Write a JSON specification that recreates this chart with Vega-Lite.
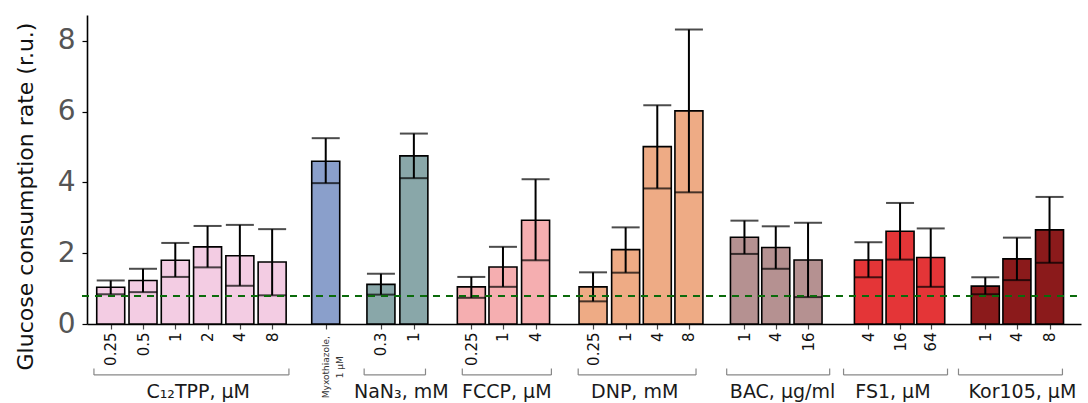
{
  "$schema": "https://vega.github.io/schema/vega-lite/v6.json",
  "autosize": "none",
  "width": 994,
  "height": 309,
  "padding": {"left": 87, "top": 15, "right": 7, "bottom": 79},
  "background": "white",
  "config": {"view": {"stroke": null}, "font": "DejaVu Sans"},
  "datasets": {
    "bars": [
      {"group": "C12TPP", "dose": "0.25", "pos": 0, "mean": 1.04, "lo": 0.84, "hi": 1.23},
      {"group": "C12TPP", "dose": "0.5", "pos": 1, "mean": 1.23, "lo": 0.9, "hi": 1.56},
      {"group": "C12TPP", "dose": "1", "pos": 2, "mean": 1.8, "lo": 1.33, "hi": 2.29},
      {"group": "C12TPP", "dose": "2", "pos": 3, "mean": 2.18, "lo": 1.6, "hi": 2.77},
      {"group": "C12TPP", "dose": "4", "pos": 4, "mean": 1.93, "lo": 1.08, "hi": 2.8},
      {"group": "C12TPP", "dose": "8", "pos": 5, "mean": 1.75, "lo": 0.81, "hi": 2.68},
      {"group": "Myxothiazole", "dose": "", "pos": 6.66, "mean": 4.6, "lo": 3.98, "hi": 5.25},
      {"group": "NaN3", "dose": "0.3", "pos": 8.37, "mean": 1.12, "lo": 0.83, "hi": 1.42},
      {"group": "NaN3", "dose": "1", "pos": 9.39, "mean": 4.75, "lo": 4.12, "hi": 5.38},
      {"group": "FCCP", "dose": "0.25", "pos": 11.17, "mean": 1.05, "lo": 0.74, "hi": 1.33},
      {"group": "FCCP", "dose": "1", "pos": 12.15, "mean": 1.61, "lo": 1.05, "hi": 2.18},
      {"group": "FCCP", "dose": "4", "pos": 13.16, "mean": 2.93, "lo": 1.8, "hi": 4.09},
      {"group": "DNP", "dose": "0.25", "pos": 14.94, "mean": 1.05, "lo": 0.64, "hi": 1.46},
      {"group": "DNP", "dose": "1", "pos": 15.95, "mean": 2.1, "lo": 1.45, "hi": 2.73},
      {"group": "DNP", "dose": "4", "pos": 16.93, "mean": 5.01, "lo": 3.83, "hi": 6.18},
      {"group": "DNP", "dose": "8", "pos": 17.91, "mean": 6.02, "lo": 3.72, "hi": 8.32},
      {"group": "BAC", "dose": "1", "pos": 19.63, "mean": 2.45, "lo": 1.98, "hi": 2.92},
      {"group": "BAC", "dose": "4", "pos": 20.6, "mean": 2.16, "lo": 1.56, "hi": 2.76},
      {"group": "BAC", "dose": "16", "pos": 21.6, "mean": 1.81, "lo": 0.76, "hi": 2.86},
      {"group": "FS1", "dose": "4", "pos": 23.47, "mean": 1.81, "lo": 1.32, "hi": 2.31},
      {"group": "FS1", "dose": "16", "pos": 24.45, "mean": 2.62, "lo": 1.82, "hi": 3.42},
      {"group": "FS1", "dose": "64", "pos": 25.4, "mean": 1.88, "lo": 1.05, "hi": 2.7},
      {"group": "Kor105", "dose": "1", "pos": 27.09, "mean": 1.07, "lo": 0.84, "hi": 1.32},
      {"group": "Kor105", "dose": "4", "pos": 28.07, "mean": 1.84, "lo": 1.24, "hi": 2.44},
      {"group": "Kor105", "dose": "8", "pos": 29.08, "mean": 2.66, "lo": 1.73, "hi": 3.59}
    ],
    "groups": [
      {"label": "C₁₂TPP, µM", "start": -0.52, "end": 5.52, "mid": 2.71},
      {"label": "NaN₃, mM", "start": 7.85, "end": 9.75, "mid": 9.0},
      {"label": "FCCP, µM", "start": 10.89, "end": 13.65, "mid": 12.27},
      {"label": "DNP, mM", "start": 14.48, "end": 18.13, "mid": 16.23},
      {"label": "BAC, µg/ml", "start": 19.08, "end": 22.27, "mid": 20.81},
      {"label": "FS1, µM", "start": 22.7, "end": 25.92, "mid": 24.23},
      {"label": "Kor105, µM", "start": 26.26, "end": 29.48, "mid": 28.24}
    ],
    "myx": [
      {"text": "Myxothiazole,\n1 µM", "pos": 6.66}
    ],
    "baseline": [
      {"x": -0.89, "x2": 29.93, "y": 0.79}
    ]
  },
  "layer": [
    {
      "data": {"name": "bars"},
      "mark": {"type": "bar", "size": 28, "stroke": "black", "strokeWidth": 1.6, "opacity": 1},
      "encoding": {
        "x": {
          "field": "pos", "type": "quantitative",
          "scale": {"domain": [-0.58, 29.9], "nice": false, "zero": false},
          "axis": {
            "title": null, "grid": false,
            "values": [0, 1, 2, 3, 4, 5, 6.66, 8.37, 9.39, 11.17, 12.15, 13.16, 14.94, 15.95, 16.93, 17.91, 19.63, 20.6, 21.6, 23.47, 24.45, 25.4, 27.09, 28.07, 29.08],
            "labelExpr": "['0.25','0.5','1','2','4','8','','0.3','1','0.25','1','4','0.25','1','4','8','1','4','16','4','16','64','1','4','8'][indexof([0,1,2,3,4,5,6.66,8.37,9.39,11.17,12.15,13.16,14.94,15.95,16.93,17.91,19.63,20.6,21.6,23.47,24.45,25.4,27.09,28.07,29.08], datum.value)]",
            "labelAngle": 270, "labelFontSize": 15, "labelColor": "#111", "labelPadding": 3,
            "labelFont": "DejaVu Sans", "labelOverlap": false, "labelFlush": false,
            "tickSize": 5, "tickColor": "#444", "tickWidth": 1.2,
            "domainColor": "black", "domainWidth": 1.6
          }
        },
        "y": {
          "field": "mean", "type": "quantitative",
          "scale": {"domain": [0, 8.73], "nice": false},
          "axis": {
            "title": "Glucose consumption rate (r.u.)", "grid": false,
            "values": [0, 2, 4, 6, 8], "format": "d",
            "labelFontSize": 28, "labelColor": "#555", "labelPadding": 7, "labelFont": "DejaVu Sans",
            "tickSize": 5, "tickColor": "black", "tickWidth": 1.2,
            "domainColor": "black", "domainWidth": 1.6,
            "titleFontSize": 22, "titleFontWeight": "normal", "titleColor": "#111", "titleFont": "DejaVu Sans",
            "titleAngle": 270, "titleAlign": "center", "titleBaseline": "middle",
            "titleX": -62, "titleY": 181
          }
        },
        "color": {
          "field": "group", "type": "nominal", "legend": null,
          "scale": {
            "domain": ["C12TPP", "Myxothiazole", "NaN3", "FCCP", "DNP", "BAC", "FS1", "Kor105"],
            "range": ["#f3cce3", "#8a9fcb", "#89a7a9", "#f5aeb0", "#eeab85", "#b59191", "#e43537", "#8b1a1b"]
          }
        }
      }
    },
    {
      "data": {"name": "bars"},
      "mark": {"type": "rule", "color": "black", "strokeWidth": 2},
      "encoding": {
        "x": {"field": "pos", "type": "quantitative"},
        "y": {"field": "lo", "type": "quantitative"},
        "y2": {"field": "hi"}
      }
    },
    {
      "data": {"name": "bars"},
      "mark": {"type": "tick", "orient": "horizontal", "color": "black", "size": 28, "thickness": 2},
      "encoding": {
        "x": {"field": "pos", "type": "quantitative"},
        "y": {"field": "hi", "type": "quantitative"}
      }
    },
    {
      "data": {"name": "bars"},
      "mark": {"type": "tick", "orient": "horizontal", "color": "black", "size": 28, "thickness": 2},
      "encoding": {
        "x": {"field": "pos", "type": "quantitative"},
        "y": {"field": "lo", "type": "quantitative"}
      }
    },
    {
      "data": {"name": "baseline"},
      "mark": {"type": "rule", "color": "#0b6b0b", "strokeWidth": 2, "strokeDash": [7, 6]},
      "encoding": {
        "x": {"field": "x", "type": "quantitative"},
        "x2": {"field": "x2"},
        "y": {"field": "y", "type": "quantitative"}
      }
    },
    {
      "data": {"name": "groups"},
      "mark": {"type": "rule", "color": "#888", "strokeWidth": 1.2},
      "encoding": {
        "x": {"field": "start", "type": "quantitative"},
        "x2": {"field": "end"},
        "y": {"datum": -1.44, "type": "quantitative"}
      }
    },
    {
      "data": {"name": "groups"},
      "mark": {"type": "rule", "color": "#888", "strokeWidth": 1.2},
      "encoding": {
        "x": {"field": "start", "type": "quantitative"},
        "y": {"datum": -1.44, "type": "quantitative"},
        "y2": {"datum": -1.26}
      }
    },
    {
      "data": {"name": "groups"},
      "mark": {"type": "rule", "color": "#888", "strokeWidth": 1.2},
      "encoding": {
        "x": {"field": "end", "type": "quantitative"},
        "y": {"datum": -1.44, "type": "quantitative"},
        "y2": {"datum": -1.26}
      }
    },
    {
      "data": {"name": "groups"},
      "mark": {"type": "text", "fontSize": 19, "color": "#1a1a1a", "align": "center", "baseline": "middle", "font": "DejaVu Sans"},
      "encoding": {
        "x": {"field": "mid", "type": "quantitative"},
        "y": {"datum": -1.93, "type": "quantitative"},
        "text": {"field": "label"}
      }
    },
    {
      "data": {"name": "myx"},
      "mark": {"type": "text", "fontSize": 9, "color": "#333", "align": "center", "baseline": "middle", "angle": 270, "lineBreak": "\n", "lineHeight": 14, "font": "DejaVu Sans"},
      "encoding": {
        "x": {"field": "pos", "type": "quantitative"},
        "y": {"datum": -1.22, "type": "quantitative"},
        "text": {"field": "text"}
      }
    }
  ]
}
